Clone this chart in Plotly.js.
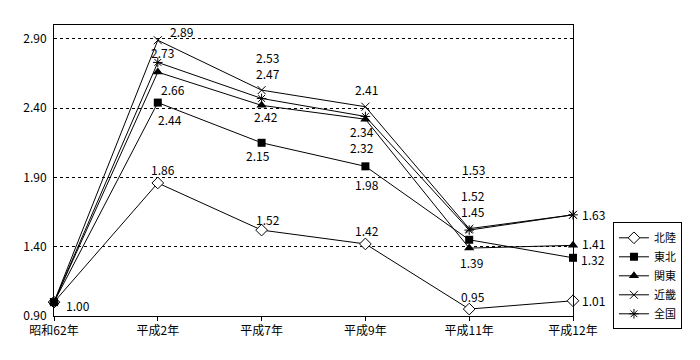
<!DOCTYPE html>
<html>
<head>
<meta charset="utf-8">
<script src="https://cdn.plot.ly/plotly-3.0.1.min.js"></script>
<style>html,body{margin:0;padding:0;background:#fff;}#chart{width:700px;height:360px;}</style>
</head>
<body>
<div id="chart"></div>
<script>
// ---- data ----
const categories = ["昭和62年", "平成2年", "平成7年", "平成9年", "平成11年", "平成12年"];
const seriesNames = ["北陸", "東北", "関東", "近畿", "全国"];
const hokuriku = [1.00, 1.86, 1.52, 1.42, 0.95, 1.01];
const tohoku   = [1.00, 2.44, 2.15, 1.98, 1.45, 1.32];
const kanto    = [1.00, 2.66, 2.42, 2.32, 1.39, 1.41];
const kinki    = [1.00, 2.89, 2.53, 2.41, 1.53, 1.63];
const zenkoku  = [1.00, 2.73, 2.47, 2.34, 1.52, 1.63];
const yTicks = [0.90, 1.40, 1.90, 2.40, 2.90];

// ---- styles / label placement (pixel offsets, null = no label) ----
const seriesValues = [hokuriku, tohoku, kanto, kinki, zenkoku];
const markers = [
  {symbol: "diamond", size: 9, color: "#fff", line: {width: 1, color: "#000"}},
  {symbol: "square", size: 8, color: "#000"},
  {symbol: "triangle-up", size: 9, color: "#000"},
  {symbol: "x-thin-open", size: 8, color: "#000", line: {width: 1, color: "#000"}},
  {symbol: "asterisk-open", size: 8, color: "#000", line: {width: 1, color: "#000"}}
];
const labelOffsets = [
  [[24, 3], [5, -13], [6, -11], [2, -13], [4, -13], [20, 0]],
  [null, [12, 17], [-4, 13], [2, 18], [4, -28], [20, 2]],
  [null, [15, 17], [4, 11], [-3, 28], [2, 14], [20, -2]],
  [null, [24, -9], [6, -33], [1, -17], [4, -59], [20, 0]],
  [null, [5, -10], [6, -25], [-3, 15], [4, -35], null]
];

const font = "'Noto Sans CJK JP', 'Noto Sans', sans-serif";

const traces = seriesValues.map((vals, i) => ({
  type: "scatter",
  mode: "lines+markers",
  name: seriesNames[i],
  x: categories,
  y: vals,
  line: {color: "#000", width: 1},
  marker: markers[i],
  cliponaxis: false
}));

const annotations = [];
seriesValues.forEach((vals, i) => {
  vals.forEach((v, j) => {
    const off = labelOffsets[i][j];
    if (!off) return;
    annotations.push({
      x: categories[j], y: v, xref: "x", yref: "y",
      text: v.toFixed(2), showarrow: false, borderpad: 0,
      xshift: off[0], yshift: -off[1],
      font: {family: font, size: 12, color: "#000"}
    });
  });
});

const layout = {
  width: 700, height: 360,
  margin: {l: 54, r: 127, t: 25, b: 44},
  paper_bgcolor: "#fff", plot_bgcolor: "#fff",
  font: {family: font, size: 12, color: "#000"},
  showlegend: true,
  legend: {
    x: 1.077, y: 0.322, xanchor: "left", yanchor: "top",
    bordercolor: "#000", borderwidth: 1, bgcolor: "#fff",
    font: {family: font, size: 11, color: "#000"},
    tracegroupgap: 0, itemwidth: 30
  },
  xaxis: {
    type: "category", range: [0, 5],
    showline: true, linecolor: "#000", linewidth: 1, mirror: true,
    showgrid: false, zeroline: false,
    ticks: "outside", ticklen: 4, tickcolor: "#000",
    tickfont: {family: font, size: 12, color: "#000"}
  },
  yaxis: {
    range: [0.9, 3.0],
    tickvals: yTicks, ticktext: yTicks.map(v => v.toFixed(2)),
    showline: true, linecolor: "#000", linewidth: 1, mirror: true,
    showgrid: true, gridcolor: "#000", gridwidth: 1, griddash: "dot",
    zeroline: false, ticks: "", ticklabelstandoff: 4,
    tickfont: {family: font, size: 12, color: "#000"}
  },
  annotations: annotations
};

Plotly.newPlot("chart", traces, layout, {staticPlot: true, displayModeBar: false});
</script>
</body>
</html>
